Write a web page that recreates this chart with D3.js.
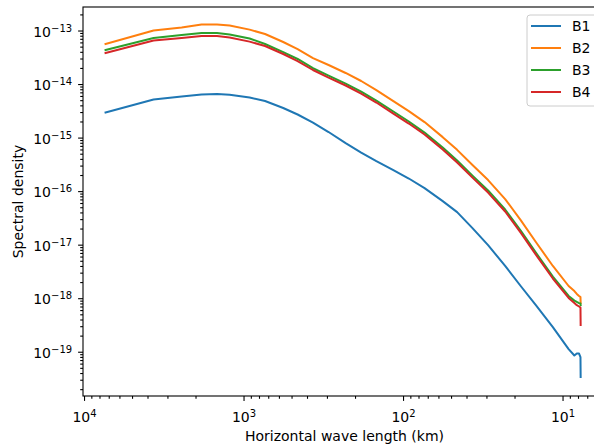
<!DOCTYPE html>
<html>
<head>
<meta charset="utf-8">
<script src="https://cdn.jsdelivr.net/npm/d3@7"></script>
<style>
body { margin: 0; background: #fff; }
text { font-family: "DejaVu Sans", sans-serif; }
</style>
</head>
<body>
<svg id="chart" width="594" height="445"></svg>
<script>

// values
var seriesNames = ['B1', 'B2', 'B3', 'B4'];
var colors = ['#1f77b4', '#ff7f0e', '#2ca02c', '#d62728'];

// horizontal wave length (km)
var waveLength = [7330, 3665, 2443, 1833, 1466, 1222, 916, 733, 564, 458, 367, 293, 229, 183, 147, 115,
    92, 73.3, 56.4, 45.8, 36.7, 29.3, 22.9, 18.3, 14.7, 11.5, 9.16, 8.43, 8.14, 7.88, 7.72, 7.70];

var b1 = [2.94e-15, 5.14e-15, 5.85e-15, 6.37e-15, 6.5e-15, 6.3e-15, 5.6e-15, 4.82e-15, 3.57e-15, 2.7e-15,
    1.91e-15, 1.27e-15, 7.9e-16, 5.26e-16, 3.65e-16, 2.48e-16, 1.72e-16, 1.14e-16, 6.5e-17, 4.06e-17,
    2.04e-17, 9.8e-18, 4.0e-18, 1.69e-18, 7.4e-19, 2.89e-19, 1.12e-19, 8.5e-20, 9.25e-20, 9.25e-20, 7.96e-20, 3.36e-20];
var b2 = [5.6e-14, 1.0e-13, 1.14e-13, 1.29e-13, 1.29e-13, 1.24e-13, 1.04e-13, 8.6e-14, 6.1e-14, 4.5e-14,
    3.06e-14, 2.27e-14, 1.61e-14, 1.14e-14, 7.7e-15, 4.8e-15, 3.13e-15, 1.95e-15, 1.02e-15, 5.9e-16,
    3.07e-16, 1.61e-16, 7.1e-17, 2.88e-17, 1.12e-17, 4.0e-18, 1.69e-18, 1.36e-18, 1.2e-18, 1.1e-18, 1.05e-18, 8.1e-19];
var b3 = [4.32e-14, 7.24e-14, 8.24e-14, 8.98e-14, 8.98e-14, 8.4e-14, 7.1e-14, 5.6e-14, 3.96e-14, 2.94e-14,
    1.99e-14, 1.44e-14, 1.02e-14, 7.25e-15, 4.92e-15, 3.07e-15, 2.0e-15, 1.24e-15, 6.5e-16, 3.72e-16,
    1.95e-16, 1.03e-16, 4.53e-17, 1.84e-17, 7.1e-18, 2.54e-18, 1.1e-18, 9.0e-19, 8.5e-19, 8.1e-19, 7.94e-19, 7.4e-19];
var b4 = [3.8e-14, 6.5e-14, 7.24e-14, 7.9e-14, 7.9e-14, 7.4e-14, 6.2e-14, 5.13e-14, 3.64e-14, 2.69e-14,
    1.83e-14, 1.32e-14, 9.4e-15, 6.65e-15, 4.52e-15, 2.81e-15, 1.83e-15, 1.14e-15, 5.98e-16, 3.42e-16,
    1.79e-16, 9.4e-17, 4.16e-17, 1.68e-17, 6.5e-18, 2.33e-18, 1.01e-18, 8.1e-19, 7.4e-19, 7.0e-19, 6.7e-19, 3.15e-19];

var xMajor = [1e4, 1e3, 1e2, 1e1];
var yMajor = [1e-13, 1e-14, 1e-15, 1e-16, 1e-17, 1e-18, 1e-19];

var seriesValues = [b1, b2, b3, b4];

var margin = {top: 7, left: 83};
var width = 523;    // right edge falls just past the picture, like the reference
var height = 389;

var svg = d3.select('#chart');
var g = svg.append('g')
    .attr('transform', 'translate(' + margin.left + ',' + margin.top + ')');

var x = d3.scaleLog()
    .domain([10150, 5.34])
    .range([0, width]);

var y = d3.scaleLog()
    .domain([2.75e-13, 1.49e-20])
    .range([0, height]);

// minor ticks 2..9 of each decade
function minorTicks(scale, eFrom, eTo) {
    var dom = scale.domain(), lo = d3.min(dom), hi = d3.max(dom);
    var out = [];
    for (var e = eFrom; e <= eTo; e++) {
        for (var m = 2; m <= 9; m++) {
            var v = m * Math.pow(10, e);
            if (v >= lo && v <= hi) out.push(v);
        }
    }
    return out;
}

function supLabel(sel, expOf) {
    sel.selectAll('.tick text')
        .text('10')
        .append('tspan')
        .attr('dy', '-0.5em')
        .attr('font-size', '10px')
        .text(function(d) { return expOf(d); });
}

function expText(d) {
    var e = Math.round(Math.log10(d));
    return e < 0 ? '\u2212' + (-e) : '' + e;
}

g.append('clipPath').attr('id', 'plot-clip')
    .append('rect').attr('width', width).attr('height', height);

// lines
var line = d3.line()
    .x(function(d) { return x(d[0]); })
    .y(function(d) { return y(d[1]); });

var plot = g.append('g').attr('clip-path', 'url(#plot-clip)');

seriesValues.forEach(function(vals, i) {
    plot.append('path')
        .datum(waveLength.map(function(w, j) { return [w, vals[j]]; }))
        .attr('fill', 'none')
        .attr('stroke', colors[i])
        .attr('stroke-width', 2)
        .attr('stroke-linejoin', 'round')
        .attr('stroke-linecap', 'square')
        .attr('d', line);
});

// x axis
g.append('g')
    .attr('transform', 'translate(0,' + height + ')')
    .call(d3.axisBottom(x).tickValues(minorTicks(x, 0, 4)).tickSize(2.8).tickFormat(''))
    .call(function(a) { a.select('.domain').remove(); });

var xAx = g.append('g')
    .attr('class', 'xAxis')
    .attr('transform', 'translate(0,' + height + ')')
    .call(d3.axisBottom(x).tickValues(xMajor).tickSize(4.9).tickPadding(11));
xAx.select('.domain').remove();
xAx.selectAll('.tick text').attr('font-size', '14px').attr('fill', '#000').attr('font-family', 'DejaVu Sans');
supLabel(xAx, expText);

// y axis
g.append('g')
    .call(d3.axisLeft(y).tickValues(minorTicks(y, -20, -13)).tickSize(2.8).tickFormat(''))
    .call(function(a) { a.select('.domain').remove(); });

var yAx = g.append('g')
    .attr('class', 'yAxis')
    .call(d3.axisLeft(y).tickValues(yMajor).tickSize(4.9).tickPadding(6));
yAx.select('.domain').remove();
yAx.selectAll('.tick text').attr('font-size', '14px').attr('fill', '#000').attr('dy', '0.4em')
    .attr('font-family', 'DejaVu Sans');
supLabel(yAx, expText);

g.selectAll('.tick line').attr('stroke', '#000').attr('stroke-width', 1.1);

// frame
g.append('rect')
    .attr('width', width)
    .attr('height', height)
    .attr('fill', 'none')
    .attr('stroke', '#000')
    .attr('stroke-width', 1.1);

// axis titles
svg.append('text')
    .attr('x', margin.left + width / 2)
    .attr('y', 441)
    .attr('text-anchor', 'middle')
    .attr('font-size', '14px')
    .text('Horizontal wave length (km)');

svg.append('text')
    .attr('transform', 'translate(23,' + (margin.top + height / 2) + ') rotate(-90)')
    .attr('text-anchor', 'middle')
    .attr('font-size', '14px')
    .text('Spectral density');

// legend
var legend = svg.append('g').attr('transform', 'translate(527,15)');
legend.append('rect')
    .attr('width', 72)
    .attr('height', 91)
    .attr('rx', 3)
    .attr('fill', '#fff')
    .attr('fill-opacity', 0.8)
    .attr('stroke', '#ccc')
    .attr('stroke-width', 1);

seriesNames.forEach(function(name, i) {
    var row = legend.append('g').attr('transform', 'translate(0,' + (11 + i * 22) + ')');
    row.append('line')
        .attr('x1', 4).attr('x2', 34)
        .attr('stroke', colors[i])
        .attr('stroke-width', 2);
    row.append('text')
        .attr('x', 45)
        .attr('dy', '0.36em')
        .attr('font-size', '14px')
        .text(name);
});

</script>
</body>
</html>
